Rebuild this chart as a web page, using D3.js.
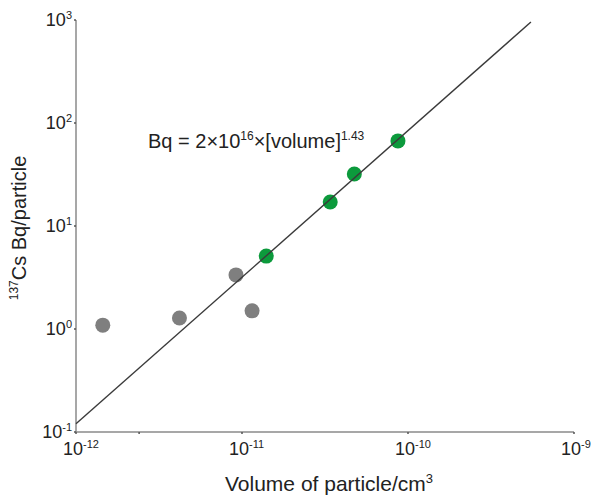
<!DOCTYPE html>
<html>
<head>
<meta charset="utf-8">
<script src="https://cdn.jsdelivr.net/npm/d3@7"></script>
<style>
  body { margin: 0; background: #fff; }
  text { font-family: "Liberation Sans", Arial, sans-serif; fill: #222; }
</style>
</head>
<body>
<div id="chart"></div>
<script>
// Data
var grayVolume = [1.45e-12, 4.2e-12, 9.2e-12, 1.15e-11];
var grayBq     = [1.09, 1.28, 3.35, 1.5];
var greenVolume = [1.4e-11, 3.4e-11, 4.75e-11, 8.7e-11];
var greenBq     = [5.1, 17.1, 32, 67];
// fit line end points
var fitVolume = [1e-12, 5.5e-10];
var fitBq     = [0.12, 955];
var xTicks = [1e-12, 1e-11, 1e-10, 1e-9];
var xTickExp = ["-12", "-11", "-10", "-9"];
var xMinor = [2.4e-12];
var yTicks = [1e-1, 1, 10, 100, 1000];
var yTickExp = ["-1", "0", "1", "2", "3"];

var width = 596, height = 496;
var margin = {top: 20, right: 22, bottom: 64, left: 76};

var svg = d3.select("#chart").append("svg")
    .attr("width", width)
    .attr("height", height);

var x = d3.scaleLog().domain([1e-12, 1e-9]).range([margin.left, width - margin.right]);
var y = d3.scaleLog().domain([1e-1, 1e3]).range([height - margin.bottom, margin.top]);

var axisColor = "#8a8a8a";

// axes lines
svg.append("line")
    .attr("x1", x(1e-12)).attr("x2", x(1e-9))
    .attr("y1", y(1e-1)).attr("y2", y(1e-1))
    .style("stroke", axisColor).style("stroke-width", 1.5);
svg.append("line")
    .attr("x1", x(1e-12)).attr("x2", x(1e-12))
    .attr("y1", y(1e-1)).attr("y2", y(1e3))
    .style("stroke", axisColor).style("stroke-width", 1.5);

// ticks
svg.selectAll(".xt").data(xTicks.concat(xMinor)).enter().append("line")
    .attr("x1", function (d) { return x(d); }).attr("x2", function (d) { return x(d); })
    .attr("y1", y(1e-1)).attr("y2", y(1e-1) + 2)
    .style("stroke", "#555").style("stroke-width", 1.5);
svg.selectAll(".yt").data(yTicks).enter().append("line")
    .attr("x1", x(1e-12) - 2).attr("x2", x(1e-12))
    .attr("y1", function (d) { return y(d); }).attr("y2", function (d) { return y(d); })
    .style("stroke", "#555").style("stroke-width", 1.5);

// tick labels
var xl = svg.selectAll(".xl").data(xTicks).enter().append("text")
    .attr("x", function (d) { return x(d) - 13; })
    .attr("y", y(1e-1) + 23)
    .style("font-size", "18px");
xl.append("tspan").text("10");
xl.append("tspan").attr("dy", -7).style("font-size", "11px")
    .text(function (d, i) { return xTickExp[i]; });

var yl = svg.selectAll(".yl").data(yTicks).enter().append("text")
    .attr("x", x(1e-12) - 4)
    .attr("y", function (d) { return y(d) + 6; })
    .attr("text-anchor", "end")
    .style("font-size", "18px");
yl.append("tspan").text("10");
yl.append("tspan").attr("dy", -7).style("font-size", "11px")
    .text(function (d, i) { return yTickExp[i]; });

var lineGen = d3.line().x(function (d) { return x(d[0]); }).y(function (d) { return y(d[1]); });
var fit = fitVolume.map(function (v, i) { return [v, fitBq[i]]; });

// points
svg.selectAll(".gray").data(grayVolume).enter().append("circle")
    .attr("cx", function (d) { return x(d); })
    .attr("cy", function (d, i) { return y(grayBq[i]); })
    .attr("r", 7.5)
    .style("fill", "#7f7f7f");
svg.selectAll(".green").data(greenVolume).enter().append("circle")
    .attr("cx", function (d) { return x(d); })
    .attr("cy", function (d, i) { return y(greenBq[i]); })
    .attr("r", 7.5)
    .style("fill", "#0c9a3c");

// fit line, drawn over the points
svg.append("path")
    .datum(fit)
    .attr("d", lineGen)
    .style("stroke", "#3a3a3a").style("stroke-width", 1.4).style("fill", "none");

// equation
var eq = svg.append("text").attr("x", 148).attr("y", 148).style("font-size", "20px");
eq.append("tspan").text("Bq = 2×10");
eq.append("tspan").attr("dy", -8).style("font-size", "12px").text("16");
eq.append("tspan").attr("dy", 8).text("×[volume]");
eq.append("tspan").attr("dy", -8).style("font-size", "12px").text("1.43");

// axis titles
var xt = svg.append("text")
    .attr("x", (x(1e-12) + x(1e-9)) / 2 + 4)
    .attr("y", 491)
    .attr("text-anchor", "middle")
    .style("font-size", "21px");
xt.append("tspan").text("Volume of particle/cm");
xt.append("tspan").attr("dy", -8).style("font-size", "13px").text("3");

var yt = svg.append("text")
    .attr("transform", "translate(26," + 228 + ") rotate(-90)")
    .attr("text-anchor", "middle")
    .style("font-size", "20px");
yt.append("tspan").attr("dy", -8).style("font-size", "12px").text("137");
yt.append("tspan").attr("dy", 8).text("Cs Bq/particle");
</script>
</body>
</html>
